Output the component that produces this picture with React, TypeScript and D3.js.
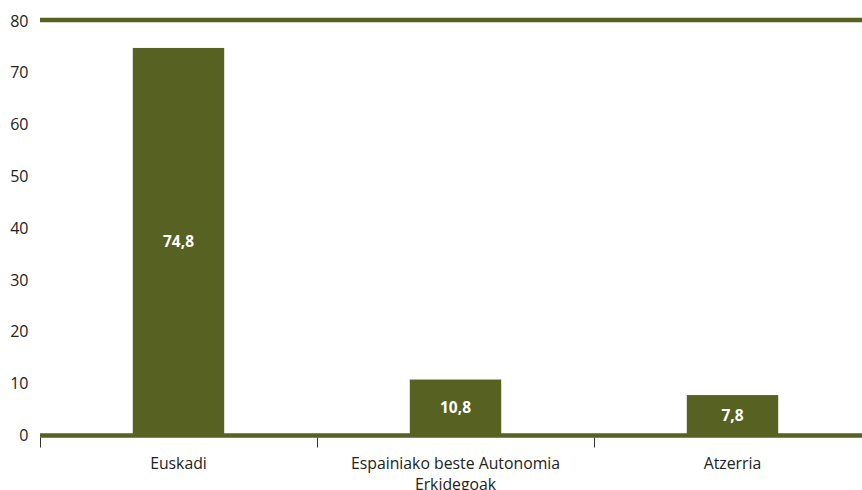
import React from "react";
import * as d3 from "d3";

const categories: string[][] = [["Euskadi"], ["Espainiako beste Autonomia", "Erkidegoak"], ["Atzerria"]];
const values: number[] = [74.8, 10.8, 7.8];
const valueLabels: string[] = ["74,8", "10,8", "7,8"];
const yTicks: number[] = [0, 10, 20, 30, 40, 50, 60, 70, 80];

const W = 862;
const H = 490;
const margin = { left: 40, right: 0, top: 20, bottom: 55 };
const color = "#566122";
const font = "'Open Sans', 'DejaVu Sans', sans-serif";

export default function App() {
  const x = d3
    .scaleBand<number>()
    .domain(values.map((_, i) => i))
    .range([margin.left, 871])
    .paddingInner(0.67)
    .paddingOuter(0.335);
  const outer = d3
    .scaleBand<number>()
    .domain(values.map((_, i) => i))
    .range([margin.left, 871]);
  const y = d3.scaleLinear().domain([0, 80]).range([435.5, 21]);

  return (
    <svg width={W} height={H} style={{ position: "absolute", left: 0, top: 0 }} fontFamily={font}>
      <rect width={W} height={H} fill="#fff" />
      {yTicks.map((t) => (
        <text key={t} x={28.5} y={y(t)} dy="0.35em" textAnchor="end" fontSize={16} fill="#222">
          {t}
        </text>
      ))}
      <line x1={margin.left} x2={W} y1={y(80) - 1} y2={y(80) - 1} stroke={color} strokeWidth={4.5} />
      {values.map((v, i) => (
        <rect key={i} x={x(i)} y={y(v)} width={x.bandwidth()} height={y(0) - y(v)} fill={color} />
      ))}
      <line x1={margin.left} x2={W} y1={y(0)} y2={y(0)} stroke={color} strokeWidth={4.5} />
      {values.map((_, i) => (
        <line
          key={i}
          x1={(outer(i) as number) + 0.5}
          x2={(outer(i) as number) + 0.5}
          y1={y(0) + 2}
          y2={y(0) + 12}
          stroke="#333"
          strokeWidth={1}
        />
      ))}
      {values.map((v, i) => (
        <text
          key={i}
          x={(x(i) as number) + x.bandwidth() / 2}
          y={(y(v) + y(0)) / 2}
          dy="0.35em"
          textAnchor="middle"
          fontSize={15.5}
          fontWeight="bold"
          fill="#fff"
        >
          {valueLabels[i]}
        </text>
      ))}
      {categories.map((lines, i) => (
        <text
          key={i}
          x={(x(i) as number) + x.bandwidth() / 2}
          y={463}
          textAnchor="middle"
          fontSize={15.8}
          fill="#222"
        >
          {lines.map((l, j) => (
            <tspan key={j} x={(x(i) as number) + x.bandwidth() / 2} dy={j === 0 ? "0.35em" : 21}>
              {l}
            </tspan>
          ))}
        </text>
      ))}
    </svg>
  );
}
